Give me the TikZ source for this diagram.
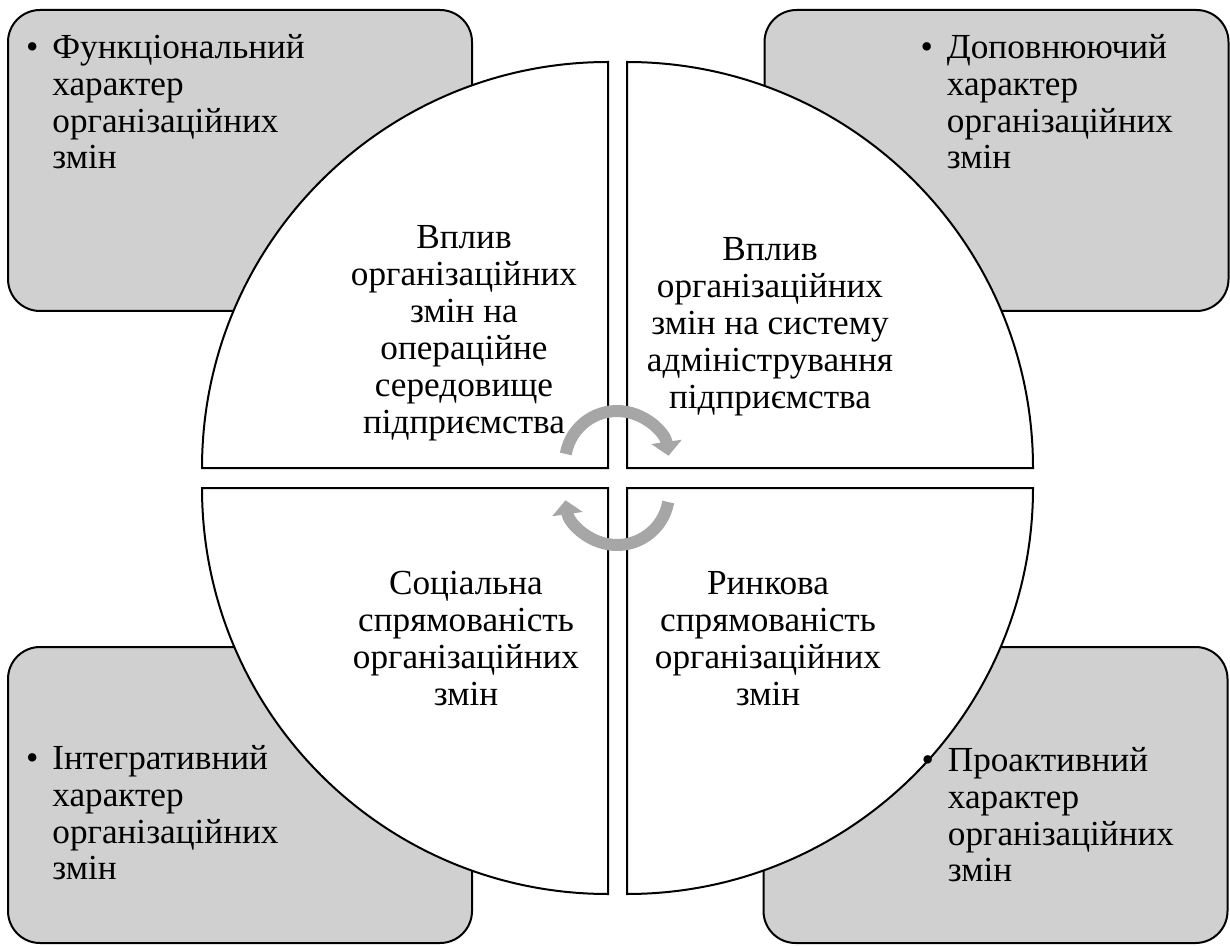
\documentclass[tikz,border=0pt]{standalone}
\usepackage{fontspec}
\setmainfont{Liberation Serif}
\usetikzlibrary{positioning, arrows.meta}
\usepackage{xcolor}
\definecolor{boxGray}{HTML}{D0D0D0}
\definecolor{arrowGray}{HTML}{A6A6A6}
\newcommand{\qr}{203pt}
\newcommand{\itembul}{\llap{\textbullet\hspace{7pt}}}

\begin{document}
\begin{tikzpicture}[
    x=0.5pt, y=-0.5pt,
    box/.style={draw=black, fill=boxGray, line width=1pt, rounded corners=16pt, minimum width=232pt},
    quad/.style={draw=black, fill=white, line width=1pt},
    boxtext/.style={align=left, inner sep=0pt, font=\fontsize{17.6}{18.4}\selectfont},
    quadtext/.style={align=center, inner sep=0pt, font=\fontsize{17.6}{18.5}\selectfont},
    cycarrow/.style={draw=arrowGray, line width=6pt, -{Triangle[length=7pt,width=15pt]}}
]
    \useasboundingbox (0,0) rectangle (1230,946);

    % corner boxes
    \node[box, minimum height=150.5pt] (funcbox) at (240,160.5) {};
    \node[box, minimum height=150.5pt] (dopbox) at (996.5,160.5) {};
    \node[box, minimum height=148pt] (integbox) at (240,795) {};
    \node[box, minimum height=148pt] (proabox) at (995.5,795) {};

    % circle quadrants
    \draw[quad] (608,468) -- (202,468) arc[start angle=180, end angle=90, radius=\qr] -- cycle;
    \draw[quad] (627,468) -- (627,62) arc[start angle=90, end angle=0, radius=\qr] -- cycle;
    \draw[quad] (608,488) -- (608,894) arc[start angle=270, end angle=180, radius=\qr] -- cycle;
    \draw[quad] (627,488) -- (1033,488) arc[start angle=0, end angle=-90, radius=\qr] -- cycle;

    % cycle arrows
    \draw[cycarrow, shift={(617,463)}] (170:26pt) arc[start angle=170, end angle=8, radius=26pt];
    \draw[cycarrow, shift={(617,493)}] (-10:26pt) arc[start angle=-10, end angle=-172, radius=26pt];

    % quadrant texts
    \node[quadtext] (opertext) at (464,333) {Вплив\\організаційних\\змін на\\операційне\\середовище\\підприємства};
    \node[quadtext] (admtext) at (770,327) {Вплив\\організаційних\\змін на систему\\адміністрування\\підприємства};
    \node[quadtext] (soctext) at (466,639) {Соціальна\\спрямованість\\організаційних\\змін};
    \node[quadtext] (rynktext) at (768,639) {Ринкова\\спрямованість\\організаційних\\змін};

    % box texts
    \node[boxtext, below right=12.5pt and 22.5pt of funcbox.north west] (functext)
        {\itembul Функціональний\\характер\\організаційних\\змін};
    \node[boxtext, below right=12.5pt and 91.5pt of dopbox.north west] (doptext)
        {\itembul Доповнюючий\\характер\\організаційних\\змін};
    \node[boxtext, below right=49.5pt and 22.5pt of integbox.north west] (integtext)
        {\itembul Інтегративний\\характер\\організаційних\\змін};
    \node[boxtext, below right=50.5pt and 92.5pt of proabox.north west] (proatext)
        {\itembul Проактивний\\характер\\організаційних\\змін};
\end{tikzpicture}
\end{document}
